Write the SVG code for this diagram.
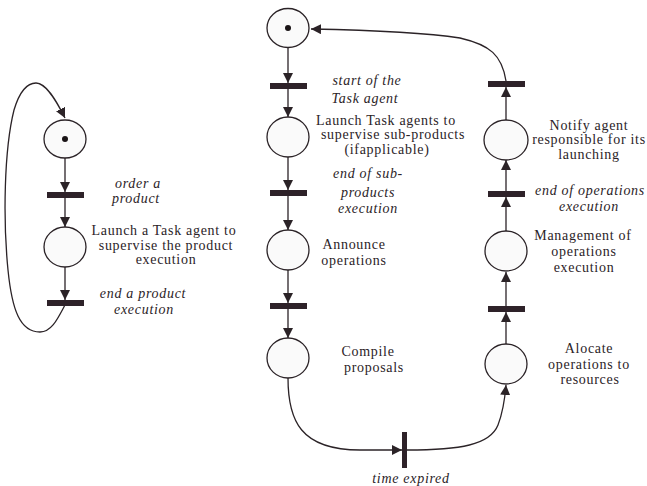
<svg xmlns="http://www.w3.org/2000/svg" width="647" height="486" viewBox="0 0 647 486">
<defs>
<style>
.pl{fill:#fafafa;stroke:#2b2327;stroke-width:1.3}
.tr{fill:#2e2229}
.tk{fill:#1a1416}
.c{fill:none;stroke:#2b2327;stroke-width:1.3;marker-end:url(#ah)}
.t{font-family:"Liberation Serif",serif;font-size:14px;fill:#2b2327;text-anchor:middle;letter-spacing:0.7px}
.i{font-style:italic}
</style>
<marker id="ah" markerUnits="userSpaceOnUse" markerWidth="12" markerHeight="12" refX="10" refY="5" orient="auto">
<path d="M0,0 L10,5 L0,10 Z" fill="#2b2327"/>
</marker>
</defs>
<rect width="647" height="486" fill="#ffffff"/>
<g id="connectors">
<path class="c" d="M65,158 L65,192"/>
<path class="c" d="M65,198 L65,227"/>
<path class="c" d="M65,267 L65,300"/>
<path class="c" d="M66,303 C58,318 52,332 40,332 C20,332 12,310 8,270 C3,220 4,150 14,110 C20,90 28,83 36,83 C46,83 56,100 65,118"/>
<path class="c" d="M288,48 L288,83"/>
<path class="c" d="M288,89 L288,117"/>
<path class="c" d="M288,157 L288,190"/>
<path class="c" d="M288,196 L288,230"/>
<path class="c" d="M288,270 L288,303"/>
<path class="c" d="M288,309 L288,338"/>
<path class="c" d="M288,378 C288,420 300,450 360,450 L402,450"/>
<path class="c" d="M407,450 C460,450 490,445 498,425 C503,412 505,397 506,385"/>
<path class="c" d="M506,344 L506,312"/>
<path class="c" d="M506,306 L506,272"/>
<path class="c" d="M506,231 L506,197"/>
<path class="c" d="M506,191 L506,160"/>
<path class="c" d="M506,120 L506,87"/>
<path class="c" d="M506,81 C502,55 490,45 460,38 C420,32 360,30 311,29"/>
</g>
<g id="L_p1"><ellipse class="pl" cx="65" cy="139" rx="21" ry="19"/><circle class="tk" cx="65" cy="139" r="3"/></g>
<g id="L_t1"><rect class="tr" x="47" y="192" width="37" height="6"/><text class="t i" x="138" y="188">order a</text><text class="t i" x="136" y="203">product</text></g>
<g id="L_p2"><ellipse class="pl" cx="65" cy="247" rx="21" ry="20"/><text class="t" x="164" y="235">Launch a Task agent to</text><text class="t" x="166" y="250">supervise the product</text><text class="t" x="166" y="264">execution</text></g>
<g id="L_t2"><rect class="tr" x="47" y="300" width="37" height="6"/><text class="t i" x="143" y="298">end a product</text><text class="t i" x="144" y="314">execution</text></g>
<g id="M_p1"><ellipse class="pl" cx="288" cy="28" rx="21" ry="19.5"/><circle class="tk" cx="288" cy="28" r="3"/></g>
<g id="M_t1"><rect class="tr" x="270" y="83" width="37" height="6"/><text class="t i" x="367" y="85">start of the</text><text class="t i" x="365" y="103">Task agent</text></g>
<g id="M_p2"><ellipse class="pl" cx="288" cy="137" rx="21" ry="20"/><text class="t" x="386" y="125">Launch Task agents to</text><text class="t" x="393" y="139">supervise sub-products</text><text class="t" x="387" y="154">(ifapplicable)</text></g>
<g id="M_t2"><rect class="tr" x="270" y="190" width="37" height="6"/><text class="t i" x="368" y="178">end of sub-</text><text class="t i" x="368" y="197">products</text><text class="t i" x="368" y="213">execution</text></g>
<g id="M_p3"><ellipse class="pl" cx="288" cy="250" rx="21" ry="20"/><text class="t" x="354" y="249">Announce</text><text class="t" x="354" y="265">operations</text></g>
<g id="M_t3"><rect class="tr" x="270" y="303" width="37" height="6"/></g>
<g id="M_p4"><ellipse class="pl" cx="288" cy="358" rx="21" ry="20"/><text class="t" x="368" y="356">Compile</text><text class="t" x="374" y="372">proposals</text></g>
<g id="T_time"><rect class="tr" x="402" y="432" width="5" height="36"/><text class="t i" x="411" y="483">time expired</text></g>
<g id="R_p1"><ellipse class="pl" cx="506" cy="364" rx="21" ry="20"/><text class="t" x="589" y="353">Alocate</text><text class="t" x="589" y="369">operations to</text><text class="t" x="590" y="384">resources</text></g>
<g id="R_t1"><rect class="tr" x="488" y="306" width="37" height="6"/></g>
<g id="R_p2"><ellipse class="pl" cx="506" cy="251" rx="21" ry="20"/><text class="t" x="583" y="240">Management of</text><text class="t" x="584" y="256">operations</text><text class="t" x="584" y="272">execution</text></g>
<g id="R_t2"><rect class="tr" x="488" y="191" width="37" height="6"/><text class="t i" x="590" y="195">end of operations</text><text class="t i" x="589" y="211">execution</text></g>
<g id="R_p3"><ellipse class="pl" cx="506" cy="140" rx="22" ry="20"/><text class="t" x="589" y="130">Notify agent</text><text class="t" x="589" y="144">responsible for its</text><text class="t" x="589" y="159">launching</text></g>
<g id="R_t3"><rect class="tr" x="488" y="81" width="37" height="6"/></g>
</svg>
